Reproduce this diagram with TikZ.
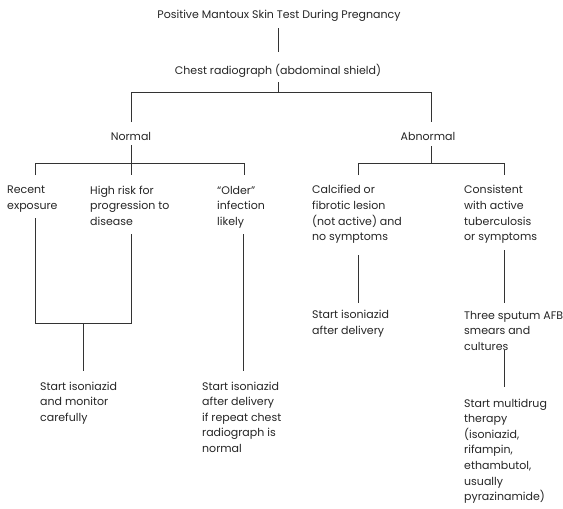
\documentclass[tikz,border=0pt]{standalone}
\usepackage{fontspec}
\setmainfont{Poppins}
\begin{document}
\begin{tikzpicture}[x=1pt,y=-1pt,
  txt/.style={inner sep=0pt, anchor=base west, align=left, text=black!85, font=\fontsize{11}{15.65}\selectfont},
  ctxt/.style={txt, anchor=base},
  ln/.style={draw=black!80, line width=0.8pt}]
\useasboundingbox[fill=white] (0,0) rectangle (563,509);
% nodes (base anchor = baseline of last line)
\node[ctxt] (title) at (279,18) {Positive Mantoux Skin Test During Pregnancy};
\node[ctxt] (chest) at (278,74) {Chest radiograph (abdominal shield)};
\node[ctxt] (normal) at (131,140) {Normal};
\node[ctxt] (abnormal) at (428,140) {Abnormal};
\node[txt] (recent) at (7,209.6) {Recent\\exposure};
\node[txt] (highrisk) at (90,225.3) {High risk for\\progression to\\disease};
\node[txt] (older) at (217,225.3) {``Older''\\infection\\likely};
\node[txt] (calc) at (312,240.9) {Calcified or\\fibrotic lesion\\(not active) and\\no symptoms};
\node[txt] (consist) at (464,240.9) {Consistent\\with active\\tuberculosis\\or symptoms};
\node[txt] (startA) at (40,421.3) {Start isoniazid\\and monitor\\carefully};
\node[txt] (startB) at (202,452.6) {Start isoniazid\\after delivery\\if repeat chest\\radiograph is\\normal};
\node[txt] (startC) at (312,334.6) {Start isoniazid\\after delivery};
\node[txt] (three) at (464,350.3) {Three sputum AFB\\smears and\\cultures};
\node[txt] (multi) at (464,500.9) {Start multidrug\\therapy\\(isoniazid,\\rifampin,\\ethambutol,\\usually\\pyrazinamide)};
% junction coordinates
\coordinate (t1) at (278,28);
\coordinate (c0) at (278,52);
\coordinate (c1) at (278,82);
\coordinate (cj) at (278,92);
\coordinate (cl) at (131,92);
\coordinate (cr) at (431,92);
\coordinate (nIn) at (131,122);
\coordinate (aIn) at (431,122);
\coordinate (nOut) at (131,145);
\coordinate (nj) at (131,163);
\coordinate (nl) at (35,163);
\coordinate (nr) at (244,163);
\coordinate (nc) at (131,175);
\coordinate (recIn) at (35,175);
\coordinate (oldIn) at (244,175);
\coordinate (aOut) at (431,146);
\coordinate (aj) at (431,163);
\coordinate (al) at (358,163);
\coordinate (ar) at (504,163);
\coordinate (calIn) at (358,175);
\coordinate (conIn) at (504,175);
\coordinate (recOut) at (35,218);
\coordinate (hrOut) at (131,234);
\coordinate (bl) at (35,323);
\coordinate (br) at (131,323);
\coordinate (bm) at (83,323);
\coordinate (sAIn) at (83,371);
\coordinate (oldOut) at (243,234);
\coordinate (sBIn) at (243,371);
\coordinate (calOut) at (358,255);
\coordinate (sCIn) at (358,303);
\coordinate (conOut) at (504,250);
\coordinate (thIn) at (504,303);
\coordinate (thOut) at (504,350);
\coordinate (muIn) at (504,387);
% connectors
\draw[ln] (t1) -- (c0);
\draw[ln] (c1) -- (cj);
\draw[ln] (nIn) -- (cl) -- (cr) -- (aIn);
\draw[ln] (nOut) -- (nc);
\draw[ln] (recIn) -- (nl) -- (nr) -- (oldIn);
\draw[ln] (aOut) -- (aj);
\draw[ln] (calIn) -- (al) -- (ar) -- (conIn);
\draw[ln] (recOut) -- (bl) -- (br) -- (hrOut);
\draw[ln] (bm) -- (sAIn);
\draw[ln] (oldOut) -- (sBIn);
\draw[ln] (calOut) -- (sCIn);
\draw[ln] (conOut) -- (thIn);
\draw[ln] (thOut) -- (muIn);
\end{tikzpicture}
\end{document}
